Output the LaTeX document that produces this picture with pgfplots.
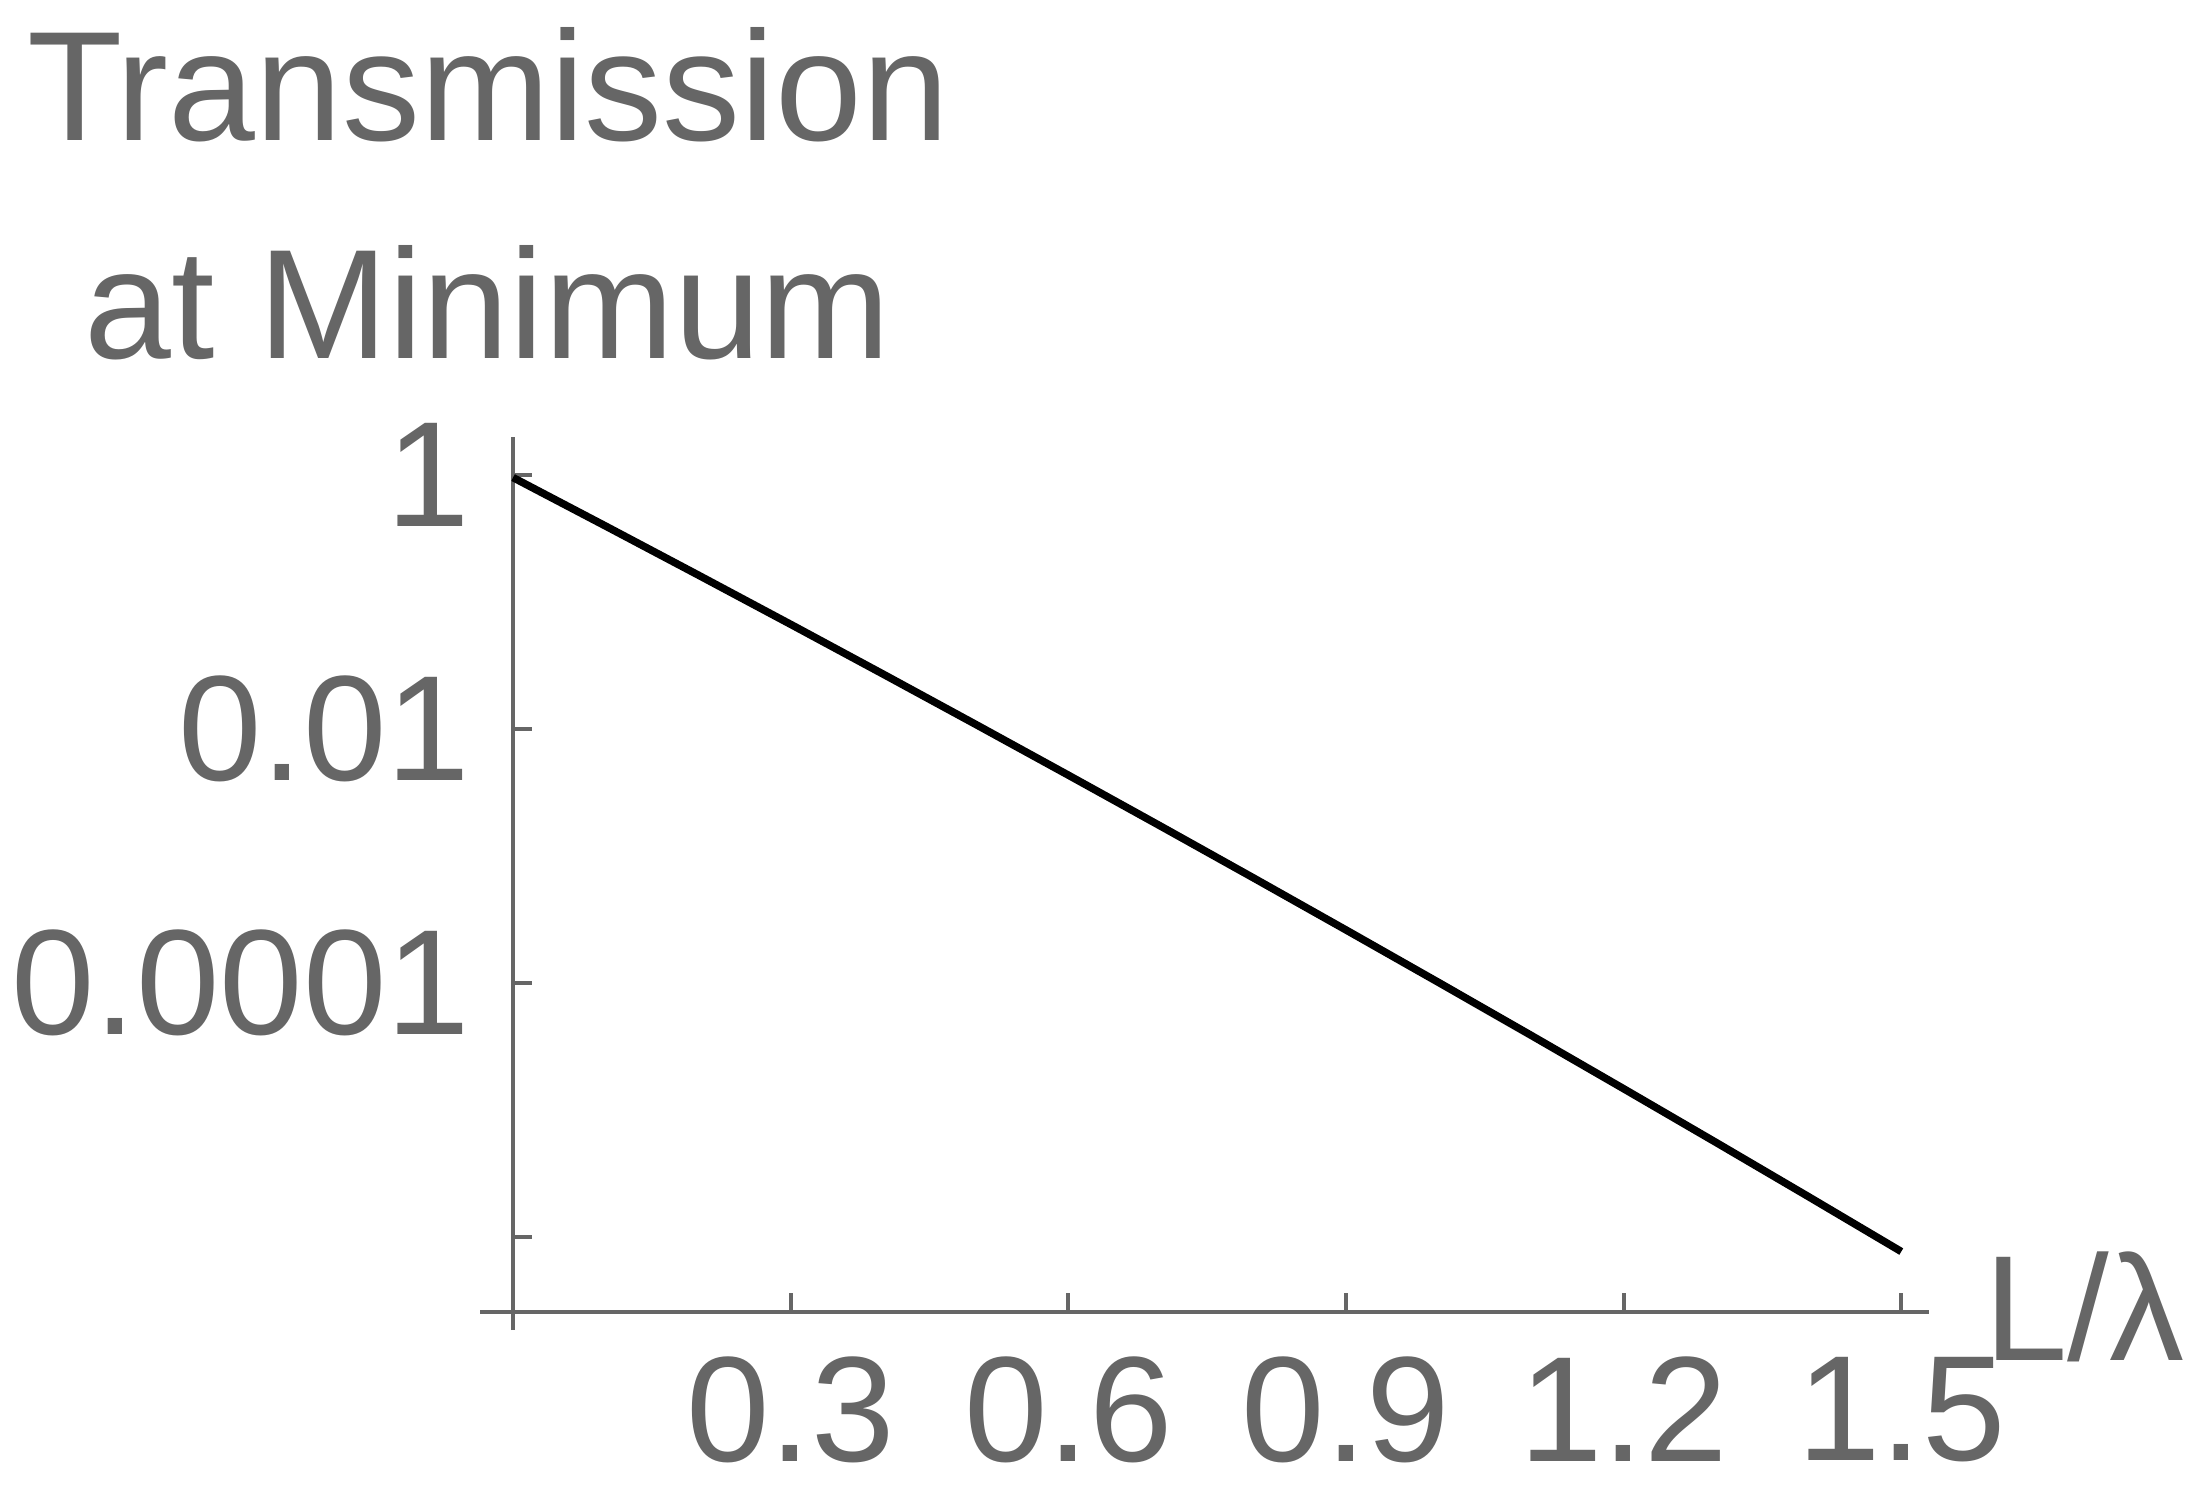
\documentclass[border=0pt]{standalone}
\usepackage{pgfplots}
\pgfplotsset{compat=1.18}
\usepackage{fontspec}
\setmainfont{Liberation Sans}
\definecolor{axgray}{HTML}{666666}
\begin{document}
\begin{tikzpicture}
\useasboundingbox (0,0) rectangle (221pt,-148.5pt);
\begin{axis}[
  at={(48pt,-131.2pt)}, anchor=south west,
  scale only axis, width=144.9pt, height=87.5pt,
  xmin=-0.0357, xmax=1.530,
  ymode=log, ymin=2.565e-7, ymax=1.99,
  axis x line=bottom, axis y line=middle,
  x axis line style={-, axgray, line width=0.42pt},
  y axis line style={-, axgray, line width=0.42pt, shorten <=-1.8pt},
  tick align=inside,
  major tick length=1.9pt,
  tick style={axgray, line width=0.42pt},
  xtick={0.3,0.6,0.9,1.2,1.5},
  xticklabels={0.3,0.6,0.9,1.2,1.5},
  ytick={1,0.01,0.0001,0.000001},
  yticklabels={1,0.01,0.0001,{}},
  yminorticks=false,
  /pgf/number format/assume math mode=true,
  yticklabel style={font=\fontsize{15}{18}\selectfont, text=axgray, anchor=east, inner sep=0pt, xshift=-4.1pt},
  xticklabel style={font=\fontsize{15}{18}\selectfont, text=axgray, anchor=north, inner sep=0pt, yshift=-4.3pt},
  clip=false,
]
\addplot[black, line width=0.75pt] coordinates {
(0,0.955) (0.1,0.3965) (0.2,0.1633) (0.3,0.06673) (0.4,0.02704)
(0.5,0.01087) (0.6,0.004335) (0.7,0.001715) (0.8,6.73e-4) (0.9,2.619e-4)
(1.0,1.0116e-4) (1.1,3.876e-5) (1.2,1.472e-5) (1.3,5.55e-6) (1.4,2.075e-6)
(1.5,7.69e-7)
};
\end{axis}
\node[anchor=base, text=axgray, font=\fontsize{15.6}{18}\selectfont, inner sep=0pt] at (48.8pt,-14pt) {Transmission};
\node[anchor=base, text=axgray, font=\fontsize{15.6}{18}\selectfont, inner sep=0pt] at (48.8pt,-35.8pt) {at Minimum};
\node[anchor=base west, text=axgray, font=\fontsize{15}{18}\selectfont, inner sep=0pt] at (198.2pt,-136pt) {L/λ};
\end{tikzpicture}
\end{document}
